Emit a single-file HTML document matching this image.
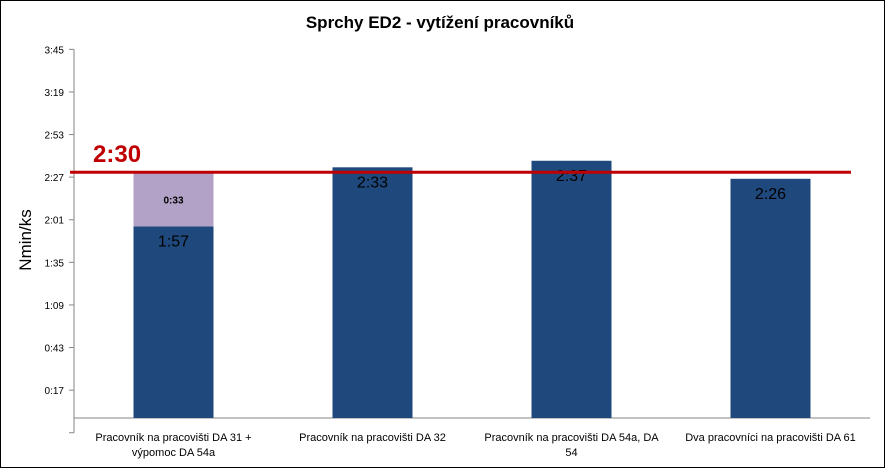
<!DOCTYPE html>
<html><head><meta charset="utf-8"><style>
body{margin:0;background:#fff;}
svg{display:block;font-family:"Liberation Sans","DejaVu Sans",sans-serif;}
</style></head><body>
<svg width="885" height="468" viewBox="0 0 885 468">
<rect x="0.5" y="0.5" width="884" height="467" fill="#fff" stroke="#000" stroke-width="1"/>
<text x="440" y="28" text-anchor="middle" font-size="17" font-weight="bold">Sprchy ED2 - vytížení pracovníků</text>
<text transform="translate(31,240) rotate(-90)" text-anchor="middle" font-size="17">Nmin/ks</text>
<g id="axes"></g>
<g id="bars"></g>
<g id="labels"></g>
</svg>
<script>
const categories = [["Pracovník na pracovišti DA 31 +","výpomoc DA 54a"],["Pracovník na pracovišti DA 32"],["Pracovník na pracovišti DA 54a, DA","54"],["Dva pracovníci na pracovišti DA 61"]];
const baseValues = [117,153,157,146];
const extraValues = [33,0,0,0];
const baseLabels = ["1:57","2:33","2:37","2:26"];
const extraLabels = ["0:33","","",""];
const tickValues = [17,43,69,95,121,147,173,199,225];
const tickLabels = ["0:17","0:43","1:09","1:35","2:01","2:27","2:53","3:19","3:45"];
const targetValue = 150;
const targetLabel = "2:30";

const NS="http://www.w3.org/2000/svg";
const y0=418, ppm=42.6/26, xL=74, catW=199, barW=80;
const y=v=>y0-v*ppm;
const xc=i=>xL+catW*(i+0.5);
function mk(tag,attrs,parent,text){const e=document.createElementNS(NS,tag);for(const k in attrs)e.setAttribute(k,attrs[k]);if(text!==undefined)e.textContent=text;parent.appendChild(e);return e;}
const axes=document.getElementById('axes'), bars=document.getElementById('bars'), labels=document.getElementById('labels');
let e=mk('line',{x1:xL,y1:y(225),x2:xL,y2:y(-9),stroke:'#868686'},axes);


e=mk('line',{x1:xL,y1:y0,x2:xL+catW*4,y2:y0,stroke:'#868686'},axes);


e=mk('line',{x1:xL-5,y1:y(-9),x2:xL,y2:y(-9),stroke:'#868686'},axes);


tickValues.forEach((v,i)=>{
  let t=mk('line',{x1:xL-5,y1:y(v),x2:xL,y2:y(v),stroke:'#868686'},axes);
  
  
  let l=mk('text',{x:xL-10,y:y(v)+4,'text-anchor':'end','font-size':'10',fill:'#000'},axes,tickLabels[i]);
  
  
});
categories.forEach((c,i)=>{
  const bx=xc(i)-barW/2;
  let b=mk('rect',{x:bx,y:y(baseValues[i]),width:barW,height:baseValues[i]*ppm,fill:'#1f497d'},bars);
  
  
  if(extraValues[i]>0){
    let s=mk('rect',{x:bx,y:y(baseValues[i]+extraValues[i]),width:barW,height:extraValues[i]*ppm,fill:'#b3a2c7'},bars);
    
    
    let sl=mk('text',{x:xc(i),y:y(baseValues[i]+extraValues[i]/2)+4,'text-anchor':'middle','font-size':'10','font-weight':'bold'},labels,extraLabels[i]);
    
    
  }
  let vl=mk('text',{x:xc(i),y:y(baseValues[i])+20,'text-anchor':'middle','font-size':'16'},labels,baseLabels[i]);
  
  
  c.forEach((ln,j)=>{
    let cl=mk('text',{x:xc(i),y:441+j*15,'text-anchor':'middle','font-size':'11'},axes,ln);
    
    
  });
});
let tl=mk('line',{x1:70,y1:y(targetValue),x2:851,y2:y(targetValue),stroke:'#c00000','stroke-width':3},labels);


let tt=mk('text',{x:93,y:y(targetValue)-10,'font-size':'24','font-weight':'bold',fill:'#c00000'},labels,targetLabel);


</script>
</body></html>
